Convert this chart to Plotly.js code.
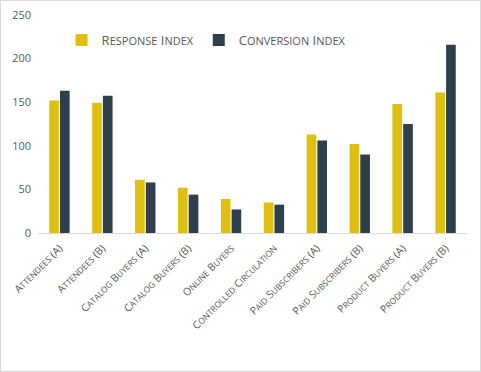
<!DOCTYPE html>
<html><head><meta charset="utf-8">
<script src="https://cdn.plot.ly/plotly-3.0.1.min.js"></script>
<style>html,body{margin:0;padding:0;background:#fff}#c{width:479px;height:370px;border:1px solid #d9d9d9}</style>
</head><body><div id="c"></div>
<script>
const categories = ["Attendees (A)","Attendees (B)","Catalog Buyers (A)","Catalog Buyers (B)","Online Buyers","Controlled Circulation","Paid Subscribers (A)","Paid Subscribers (B)","Product Buyers (A)","Product Buyers (B)"];
const seriesNames = ["Response Index","Conversion Index"];
const responseIndex = [152,149.5,61,52,39,35,113,102,148,161];
const conversionIndex = [163,157.5,58,44,27,32.5,106,90,125,216];
const yTicks = [0,50,100,150,200,250];

// emulate small caps: lowercase letters drawn as smaller capitals
function smallCaps(s, small){
  return s.replace(/[a-z]+/g, m => `<span style="font-size:${small}px">${m.toUpperCase()}</span>`);
}
const fam = "'Open Sans', sans-serif";
const data = [
 {type:"bar", name:smallCaps(seriesNames[0],11), x:categories, y:responseIndex, marker:{color:"#e0bf0e"}},
 {type:"bar", name:smallCaps(seriesNames[1],11), x:categories, y:conversionIndex, marker:{color:"#2e3f50"}}
];
const layout = {
 width:479, height:370,
 margin:{l:37,r:13,t:14,b:138},
 paper_bgcolor:"#fff", plot_bgcolor:"#fff",
 font:{family:fam, color:"#595959"},
 barmode:"group", bargap:0.5, bargroupgap:0.1,
 showlegend:true,
 legend:{orientation:"h", x:0.055, y:0.885, xanchor:"left", yanchor:"middle", bgcolor:"rgba(0,0,0,0)",
   font:{family:fam, color:"#595959", size:13}, tracegroupgap:0},
 xaxis:{type:"category", showline:true, linecolor:"#d9d9d9", linewidth:1, ticks:"", tickangle:-45,
   tickvals:categories, ticktext:categories.map(c=>smallCaps(c,8.5)), ticklabelstandoff:4,
   tickfont:{family:fam, color:"#595959", size:10.5}, showgrid:false, zeroline:false},
 yaxis:{range:[0,250], tickvals:yTicks, showgrid:false, zeroline:false, showline:false, ticks:"",
   tickfont:{family:fam, color:"#595959", size:11}, ticklabelstandoff:6}
};
Plotly.newPlot("c", data, layout, {displayModeBar:false, staticPlot:true});
</script></body></html>
